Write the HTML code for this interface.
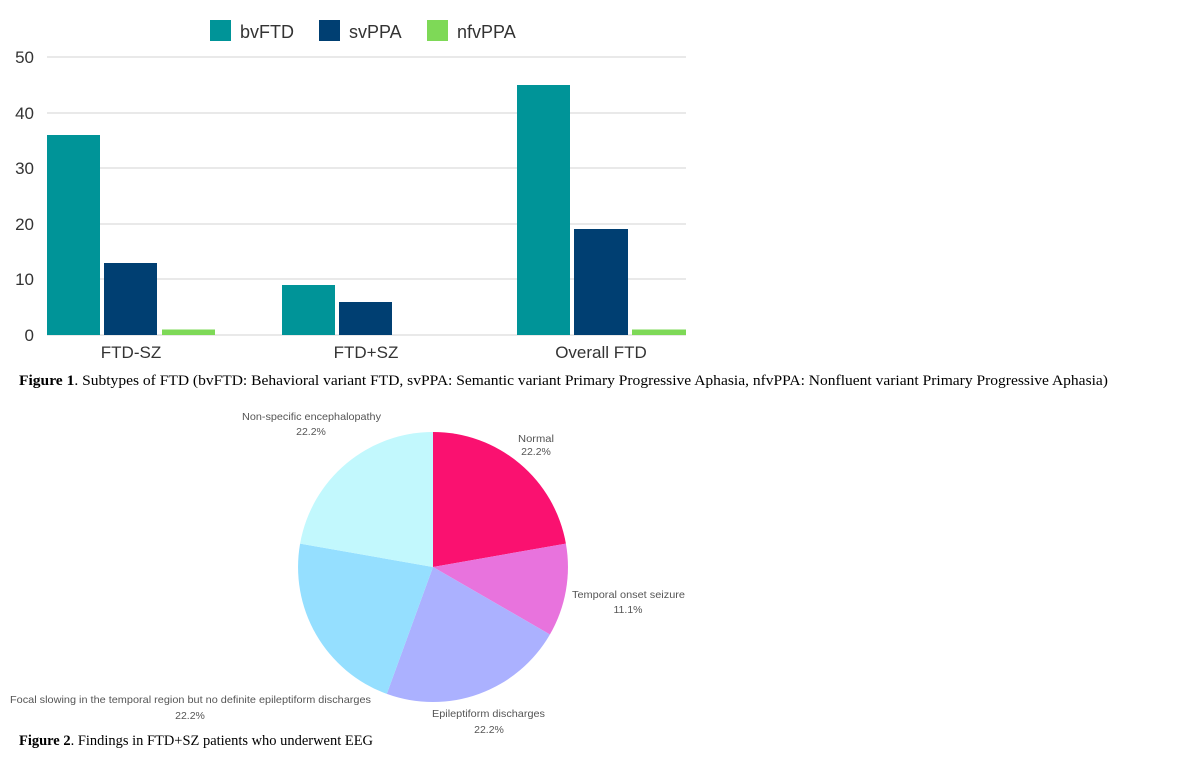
<!DOCTYPE html>
<html><head><meta charset="utf-8"><style>
body{margin:0;background:#fff;width:1196px;height:760px;overflow:hidden}
svg{display:block}
</style></head><body>
<svg width="1196" height="760" xmlns="http://www.w3.org/2000/svg">
<g font-family="Liberation Sans, sans-serif">
<rect x="210" y="20" width="21" height="21" fill="#009498"/>
<text x="240" y="38" font-size="18" fill="#333">bvFTD</text>
<rect x="319" y="20" width="21" height="21" fill="#003f72"/>
<text x="349" y="38" font-size="18" fill="#333">svPPA</text>
<rect x="427" y="20" width="21" height="21" fill="#7ed957"/>
<text x="457" y="38" font-size="18" fill="#333">nfvPPA</text>
<g stroke="#e2e2e2" stroke-width="1.5">
<line x1="47" x2="686" y1="57" y2="57"/>
<line x1="47" x2="686" y1="113" y2="113"/>
<line x1="47" x2="686" y1="168" y2="168"/>
<line x1="47" x2="686" y1="224" y2="224"/>
<line x1="47" x2="686" y1="279" y2="279"/>
<line x1="47" x2="686" y1="335" y2="335"/>
</g>
<g font-size="17" fill="#333" text-anchor="end">
<text x="34" y="63">50</text><text x="34" y="119">40</text><text x="34" y="174">30</text>
<text x="34" y="230">20</text><text x="34" y="285">10</text><text x="34" y="341">0</text>
</g>
<rect x="47" y="135" width="53" height="200" fill="#009498"/>
<rect x="104" y="263" width="53" height="72" fill="#003f72"/>
<rect x="162" y="329.5" width="53" height="5.5" fill="#7ed957"/>
<rect x="282" y="285" width="53" height="50" fill="#009498"/>
<rect x="339" y="302" width="53" height="33" fill="#003f72"/>
<rect x="517" y="85" width="53" height="250" fill="#009498"/>
<rect x="574" y="229" width="54" height="106" fill="#003f72"/>
<rect x="632" y="329.5" width="54" height="5.5" fill="#7ed957"/>
<g font-size="17" fill="#333" text-anchor="middle">
<text x="131" y="358">FTD-SZ</text><text x="366" y="358">FTD+SZ</text><text x="601" y="358">Overall FTD</text>
</g>
<text x="19" y="385" font-family="Liberation Serif, serif" font-size="14.5" fill="#000" textLength="1089" lengthAdjust="spacingAndGlyphs"><tspan font-weight="bold">Figure 1</tspan>. Subtypes of FTD (bvFTD: Behavioral variant FTD, svPPA: Semantic variant Primary Progressive Aphasia, nfvPPA: Nonfluent variant Primary Progressive Aphasia)</text>
<path d="M433 567 L433 432 A135 135 0 0 1 565.9 543.6 Z" fill="#fa1170"/>
<path d="M433 567 L565.9 543.6 A135 135 0 0 1 549.9 634.5 Z" fill="#e873dd"/>
<path d="M433 567 L549.9 634.5 A135 135 0 0 1 386.8 693.9 Z" fill="#abb1ff"/>
<path d="M433 567 L386.8 693.9 A135 135 0 0 1 300.1 543.6 Z" fill="#95dfff"/>
<path d="M433 567 L300.1 543.6 A135 135 0 0 1 433 432 Z" fill="#c2f8fd"/>
<g font-size="10.5" fill="#555">
<text x="242" y="420" textLength="139" lengthAdjust="spacingAndGlyphs">Non-specific encephalopathy</text><text x="311" y="435" text-anchor="middle">22.2%</text>
<text x="518" y="442" textLength="36" lengthAdjust="spacingAndGlyphs">Normal</text><text x="536" y="455" text-anchor="middle">22.2%</text>
<text x="572" y="598" textLength="113" lengthAdjust="spacingAndGlyphs">Temporal onset seizure</text><text x="628" y="613" text-anchor="middle">11.1%</text>
<text x="432" y="717" textLength="113" lengthAdjust="spacingAndGlyphs">Epileptiform discharges</text><text x="489" y="733" text-anchor="middle">22.2%</text>
<text x="10" y="703" textLength="361" lengthAdjust="spacingAndGlyphs">Focal slowing in the temporal region but no definite epileptiform discharges</text><text x="190" y="719" text-anchor="middle">22.2%</text>
</g>
<text x="19" y="745" font-family="Liberation Serif, serif" font-size="14.5" fill="#000" textLength="354" lengthAdjust="spacingAndGlyphs"><tspan font-weight="bold">Figure 2</tspan>. Findings in FTD+SZ patients who underwent EEG</text>
</g>
</svg>
</body></html>
